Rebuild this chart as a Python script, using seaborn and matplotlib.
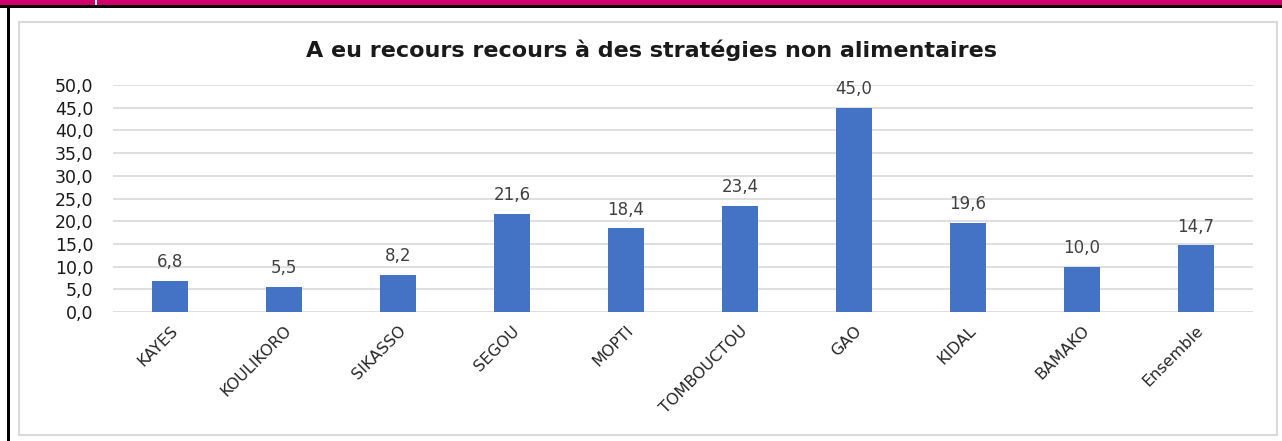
import matplotlib
matplotlib.use("Agg")
import matplotlib.pyplot as plt
from matplotlib.patches import Rectangle
import seaborn as sns
import pandas as pd

regions = ["KAYES", "KOULIKORO", "SIKASSO", "SEGOU", "MOPTI", "TOMBOUCTOU",
           "GAO", "KIDAL", "BAMAKO", "Ensemble"]
values = [6.8, 5.5, 8.2, 21.6, 18.4, 23.4, 45.0, 19.6, 10.0, 14.7]
title = "A eu recours recours à des stratégies non alimentaires"

sns.set_theme(style="white")
plt.rcParams["font.family"] = ["DejaVu Sans"]

W, H = 1282, 441
fig = plt.figure(figsize=(W / 100, H / 100), dpi=100)
fig.patch.set_facecolor("white")

# page decorations: magenta header band, black frame lines, grey chart box
fig.add_artist(Rectangle((0, 1 - 5 / H), 1, 5 / H, transform=fig.transFigure,
                         color="#D1006B", lw=0))
fig.add_artist(Rectangle((0, 1 - 7.5 / H), 1, 2.5 / H, transform=fig.transFigure,
                         color="black", lw=0))
fig.add_artist(Rectangle((95 / W, 1 - 5 / H), 2 / W, 5 / H, transform=fig.transFigure,
                         color="white", lw=0))
fig.add_artist(Rectangle((7 / W, 0), 2.5 / W, 1 - 5 / H, transform=fig.transFigure,
                         color="black", lw=0))
fig.add_artist(Rectangle((19 / W, 1 - 435 / H), (1277 - 19) / W, (435 - 22) / H,
                         transform=fig.transFigure, fill=False,
                         edgecolor="#D9D9D9", lw=1.5))

ax = fig.add_axes([113 / W, 1 - 312 / H, (1253 - 113) / W, (312 - 85) / H])
df = pd.DataFrame({"region": regions, "value": values})
sns.barplot(data=df, x="region", y="value", ax=ax, color="#4472C4",
            saturation=1, width=0.31, edgecolor="none")

ax.set_ylim(0, 50)
ax.set_xlim(-0.5, len(regions) - 0.5)
ax.set_yticks([i * 5 for i in range(11)])
ax.set_yticklabels([f"{v:.1f}".replace(".", ",") for v in ax.get_yticks()],
                   fontsize=12.5, color="#1a1a1a")
ax.yaxis.grid(True, color="#D9D9D9", lw=1.2)
ax.set_axisbelow(True)
for s in ax.spines.values():
    s.set_visible(False)
ax.tick_params(axis="y", length=0, pad=14)
ax.set_xlabel("")
ax.set_ylabel("")
ax.set_xticks(range(len(regions)))
ax.set_xticklabels(regions, rotation=45, ha="right", rotation_mode="anchor",
                   fontsize=11.5, color="#262626")
ax.tick_params(axis="x", length=0, pad=8)

for i, v in enumerate(values):
    ax.annotate(f"{v:.1f}".replace(".", ","), (i, v), xytext=(0, 7),
                textcoords="offset points", ha="center", va="bottom",
                fontsize=12, color="#404040")

fig.text((287 + 1017) / 2 / W, 1 - 50 / H, title, ha="center", va="center",
         fontsize=16, color="#1a1a1a", fontweight="bold")

fig.savefig("out.png", dpi=100, facecolor="white")
